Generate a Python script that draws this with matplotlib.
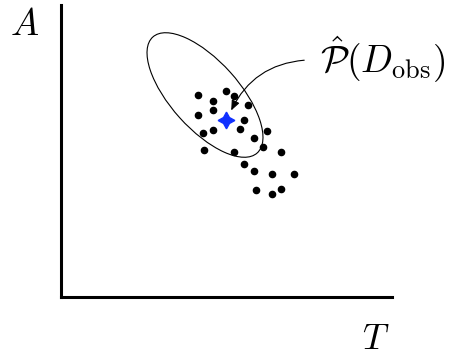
import matplotlib
matplotlib.use('Agg')
import matplotlib.pyplot as plt
from matplotlib.patches import Ellipse, FancyArrowPatch

plt.rcParams['mathtext.fontset'] = 'cm'

# sample points (T, A), axis units
T_obs = [137, 152, 165, 173, 187, 152, 137, 183, 179, 152, 142, 206,
         193, 202, 143, 173, 220, 183, 193, 211, 233, 195, 211, 220]
A_obs = [202, 196, 206, 201, 192, 187, 182, 177, 168, 167, 164, 166,
         159, 150, 147, 145, 145, 133, 126, 123, 123, 107, 103, 108]

# estimate (blue star)
T_hat, A_hat = 165, 177

# confidence ellipse
ell_center = (144, 202)
ell_width, ell_height, ell_angle = 156, 68, -48

fig = plt.figure(figsize=(4.54, 3.57), dpi=100)
ax = fig.add_axes([61 / 454, 60 / 357, 331 / 454, 292 / 357])
ax.set_xlim(0, 331)
ax.set_ylim(0, 292)
ax.set_xticks([])
ax.set_yticks([])
for s in ['top', 'right']:
    ax.spines[s].set_visible(False)
for s in ['left', 'bottom']:
    ax.spines[s].set_linewidth(2.2)

ax.add_patch(Ellipse(ell_center, ell_width, ell_height, angle=ell_angle,
                     fill=False, edgecolor='black', linewidth=0.8))
ax.scatter(T_obs, A_obs, s=20, color='black', zorder=3)
ax.plot(T_hat, A_hat, marker=(4, 1, 0), markersize=12, color='#1030ff', zorder=4)

ax.add_patch(FancyArrowPatch((246, 237), (169, 184), connectionstyle='arc3,rad=0.3',
                             arrowstyle='-|>,head_length=6,head_width=2.5',
                             color='black', linewidth=0.8, zorder=5))
ax.text(259, 224, r'$\hat{\mathcal{P}}(D_{\mathrm{obs}})$', fontsize=27,
        ha='left', va='baseline')

fig.text(25 / 454, 1 - 35 / 357, r'$A$', fontsize=27, ha='center', va='baseline')
fig.text(376 / 454, 1 - 349 / 357, r'$T$', fontsize=26, ha='center', va='baseline')

fig.savefig('out.png', dpi=100)
